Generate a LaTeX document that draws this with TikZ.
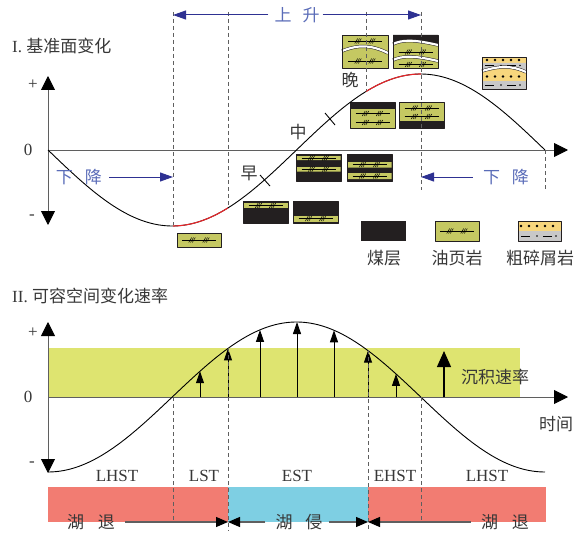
\documentclass[tikz,border=0pt]{standalone}
\usepackage{fontspec}
\setmainfont{Liberation Serif}
\newfontfamily\cjk{Noto Sans CJK SC}
\usetikzlibrary{arrows.meta}

\definecolor{shalegreen}{RGB}{197,200,98}
\definecolor{coalblack}{RGB}{35,31,32}
\definecolor{sandyellow}{RGB}{247,214,125}
\definecolor{siltgrey}{RGB}{200,200,200}
\definecolor{rateband}{RGB}{222,228,112}
\definecolor{regress}{RGB}{242,124,114}
\definecolor{transgress}{RGB}{126,207,227}
\definecolor{trendblue}{RGB}{46,49,146}
\definecolor{trendtext}{RGB}{90,108,184}
\definecolor{curvered}{RGB}{232,38,42}
\definecolor{axisgrey}{RGB}{95,95,95}
\definecolor{labelgrey}{RGB}{55,55,55}

\newcommand\hanzi{\cjk\fontsize{17}{20}\selectfont}
\newcommand\latinsize{\fontsize{17}{20}\selectfont}

\tikzset{
  axisline/.style={axisgrey, line width=0.9pt},
  bigtip/.style={-{Triangle[width=14pt,length=14pt,black]}},
  bothtips/.style={{Triangle[width=14pt,length=14pt,black]}-{Triangle[width=14pt,length=14pt,black]}},
  guide/.style={axisgrey, line width=0.8pt, dash pattern=on 4pt off 3pt},
  trend/.style={trendblue, line width=1pt, -{Triangle[width=9pt,length=13pt]}},
  trendlabel/.style={text=trendtext, font=\hanzi},
  rate/.style={black, line width=0.9pt, -{Triangle[width=8pt,length=12pt]}},
  lake/.style={draw=axisgrey, line width=1.2pt, -{Triangle[width=10pt,length=12pt,black]}},
  lith/.style={draw=coalblack, line width=0.9pt},
  fracture/.style={draw=coalblack, line width=0.5pt, double=white, double distance=2.2pt},
  sketchcurve/.style={black, line width=0.9pt},
  % oil shale trace: a line with two hatch marks
  shale/.pic={
    \draw[line width=0.6pt] (-17,0) -- (17,0);
    \foreach \m in {-7,7}
      \foreach \d in {-1.8,0,1.8}
        \draw[line width=0.45pt] ({\m+\d-1.5},2.5) -- ({\m+\d+1.5},-2.5);
  },
  % coarse clastics: dotted sand row and dashed silt row
  sandrow/.pic={
    \foreach \x in {-17,-9,-1,7,15}
      \fill (\x,0) circle (1.3pt);
  },
  siltrow/.pic={
    \draw[line width=0.6pt] (-17,0) -- (-8,0) (5,0) -- (14,0);
    \foreach \x in {-1,18}
      \fill (\x,0) circle (0.9pt);
  },
}

\begin{document}
\begin{tikzpicture}[x=1pt, y=-1pt, line join=round,
  every node/.style={text=labelgrey, inner sep=0pt}]
\useasboundingbox (0,0) rectangle (587,535);

% ===== I. base level =====
\node[anchor=west, font=\latinsize] (title1) at (12,46) {I. {\hanzi 基准面变化}};
\node[font=\latinsize] (plus1) at (33,85) {+};
\node[font=\latinsize] (zero1) at (28,150) {0};
\node[font=\latinsize] (minus1) at (32,217) {-};

\draw[axisline, bothtips] (48,76) -- (48,225);
\draw[axisline, bigtip] (48,150) -- (568,150);

% lithology boxes along the curve
\filldraw[lith, fill=shalegreen] (177,233) rectangle (221,247);
\pic at (199,240) {shale};

\fill[coalblack] (243,201) rectangle (288,223);
\fill[shalegreen] (243.5,203) rectangle (287.5,208);
\pic at (265.5,205.5) {shale};
\draw[lith] (243,201) rectangle (288,223);
\fill[coalblack] (293,201) rectangle (338,223);
\fill[shalegreen] (293.5,216) rectangle (337.5,221.5);
\pic at (315.5,218.7) {shale};
\draw[lith] (293,201) rectangle (338,223);

\fill[coalblack] (296,154) rectangle (341,181);
\fill[shalegreen] (296.5,156) rectangle (340.5,160) (296.5,167) rectangle (340.5,171.5);
\pic at (318.5,158) {shale};
\pic at (318.5,169.2) {shale};
\draw[lith] (296,154) rectangle (341,181);
\fill[coalblack] (347,154) rectangle (392,181);
\fill[shalegreen] (347.5,162) rectangle (391.5,167.5) (347.5,173) rectangle (391.5,179);
\pic at (369.5,164.7) {shale};
\pic at (369.5,176) {shale};
\draw[lith] (347,154) rectangle (392,181);

\fill[shalegreen] (350,102) rectangle (395,128);
\fill[coalblack] (350,102) rectangle (395,109);
\pic at (372.5,113.5) {shale};
\pic at (372.5,122.5) {shale};
\draw[lith] (350,102) rectangle (395,128);
\fill[shalegreen] (399,102) rectangle (444,128);
\fill[coalblack] (399,121) rectangle (444,128);
\pic at (421.5,108) {shale};
\pic at (421.5,116.5) {shale};
\draw[lith] (399,102) rectangle (444,128);

\fill[shalegreen] (342,35) rectangle (388,68);
\pic at (365,41) {shale};
\pic at (365,61) {shale};
\draw[fracture] (342,51) .. controls (352,47) and (360,46) .. (366,46.5)
  .. controls (374,47) and (382,50) .. (388,53);
\draw[lith] (342,35) rectangle (388,68);
\fill[shalegreen] (393,35) rectangle (438,68);
\fill[coalblack] (393,35) -- (438,35) -- (438,45) .. controls (412,39) and (402,40) .. (393,44) -- cycle;
\pic at (415.5,52) {shale};
\pic at (415.5,64.5) {shale};
\draw[fracture] (393,44) .. controls (402,40) and (412,39) .. (438,45);
\draw[fracture] (393,60) .. controls (402,56) and (412,55) .. (438,61);
\draw[lith] (393,35) rectangle (438,68);

\fill[sandyellow] (482,57) rectangle (526,89);
\fill[siltgrey] (482,63) -- (526,63) -- (526,72) .. controls (520,69) and (512,67) .. (505,67)
  .. controls (500,67) and (494,67.5) .. (482,71) -- cycle;
\fill[siltgrey] (482,81) rectangle (526,89);
\pic at (504,60) {sandrow};
\pic at (502,65.5) {siltrow};
\pic at (504,76.5) {sandrow};
\pic at (502,85) {siltrow};
\draw[fracture] (482,71) .. controls (494,67.5) and (500,67) .. (505,67)
  .. controls (512,67) and (520,69) .. (526,72);
\draw[lith] (482,57) rectangle (526,89);

% base-level curve, red where the shale is kept
\draw[sketchcurve] plot[domain=48:545, samples=150] (\x, {150+76*sin((\x-48)*0.72435)});
\draw[curvered, line width=1.1pt] plot[domain=173:228, samples=25] (\x, {150+76*sin((\x-48)*0.72435)});
\draw[curvered, line width=1.1pt] plot[domain=366:421, samples=25] (\x, {150+76*sin((\x-48)*0.72435)});
\draw[sketchcurve] (260,175) -- (270,186);
\draw[sketchcurve] (325,113) -- (335,125);
\node[font=\hanzi] (early) at (249,173) {早};
\node[font=\hanzi] (middle) at (298,132) {中};
\node[font=\hanzi] (late) at (350,80) {晚};

% guides
\draw[guide] (173,12) -- (173,225);
\draw[guide] (228,12) -- (228,208);
\draw[guide] (366,12) -- (366,91);
\draw[guide] (421,12) -- (421,190);
\draw[guide] (545,150) -- (545,190);

% rise and fall
\coordinate (riseL) at (173,15);
\coordinate (riseR) at (421,15);
\node[trendlabel] (rise) at (297,15) {上\hspace{11pt}升};
\draw[trend] ([xshift=-6pt]rise.west) -- (riseL);
\draw[trend] ([xshift=3pt]rise.east) -- (riseR);
\coordinate (fallLend) at (173,177);
\coordinate (fallRend) at (421,177);
\node[trendlabel] (fallL) at (79,177) {下\hspace{12pt}降};
\node[trendlabel] (fallR) at (506,177) {下\hspace{12pt}降};
\draw[trend] ([xshift=7pt]fallL.east) -- (fallLend);
\draw[trend] ([xshift=-10pt]fallR.west) -- (fallRend);

% legend
\fill[coalblack] (361,221) rectangle (406,241);
\node[font=\hanzi] (coal) at (384,258) {煤层};
\filldraw[lith, fill=shalegreen] (435,221) rectangle (479,241);
\pic at (457,231) {shale};
\node[font=\hanzi] (oilshale) at (457,258) {油页岩};
\fill[sandyellow] (518,221) rectangle (561,231);
\fill[siltgrey] (518,231) rectangle (561,241);
\pic at (538,226) {sandrow};
\pic at (538,236) {siltrow};
\draw[lith] (518,221) rectangle (561,241);
\node[font=\hanzi] (clastic) at (540,258) {粗碎屑岩};

% ===== II. accommodation rate =====
\node[anchor=west, font=\latinsize] (title2) at (12,296) {II. {\hanzi 可容空间变化速率}};
\node[font=\latinsize] (plus2) at (33,333) {+};
\node[font=\latinsize] (zero2) at (28,397) {0};
\node[font=\latinsize] (minus2) at (32,464) {-};

\fill[rateband] (48,348) rectangle (520,397);
\draw[axisline, bothtips] (48,322) -- (48,473);
\draw[axisline, bigtip] (48,397) -- (568,397);

\draw[sketchcurve] plot[domain=48:545, samples=150] (\x, {397+75*cos((\x-48)*0.72435)});
\foreach \x in {200,228,260,297,334,368,396}
  \draw[rate] (\x,397) -- (\x,{397+75*cos((\x-48)*0.72435)});
\draw[black, line width=1.2pt, -{Triangle[width=14pt,length=16pt]}] (444,397) -- (444,351);
\node[font=\hanzi] (sedrate) at (495,377) {沉积速率};
\node[font=\hanzi] (time) at (556,424) {时间};

% systems tracts
\fill[regress] (48,487) rectangle (228,521.5);
\fill[transgress] (228,487) rectangle (368,521.5);
\fill[regress] (368,487) rectangle (546,521.5);
\draw[guide] (173,397) -- (173,521);
\draw[guide] (228,348) -- (228,531);
\draw[guide] (368,350) -- (368,531);
\draw[guide] (421,397) -- (421,521);
\node[font=\latinsize] (lhst1) at (117,476) {LHST};
\node[font=\latinsize] (lst) at (204,476) {LST};
\node[font=\latinsize] (est) at (297,476) {EST};
\node[font=\latinsize] (ehst) at (395,476) {EHST};
\node[font=\latinsize] (lhst2) at (487,476) {LHST};

% lake retreat and advance
\coordinate (onset) at (228,522);
\coordinate (peak) at (368,522);
\node[font=\hanzi] (retreat1) at (91,522) {湖\hspace{14pt}退};
\node[font=\hanzi] (advance) at (299,522) {湖\hspace{13pt}侵};
\node[font=\hanzi] (retreat2) at (505,522) {湖\hspace{14pt}退};
\draw[lake] ([xshift=10pt]retreat1.east) -- (onset);
\draw[lake] ([xshift=-10pt]advance.west) -- (onset);
\draw[lake] ([xshift=6pt]advance.east) -- (peak);
\draw[lake] ([xshift=-10pt]retreat2.west) -- (peak);
\end{tikzpicture}
\end{document}
